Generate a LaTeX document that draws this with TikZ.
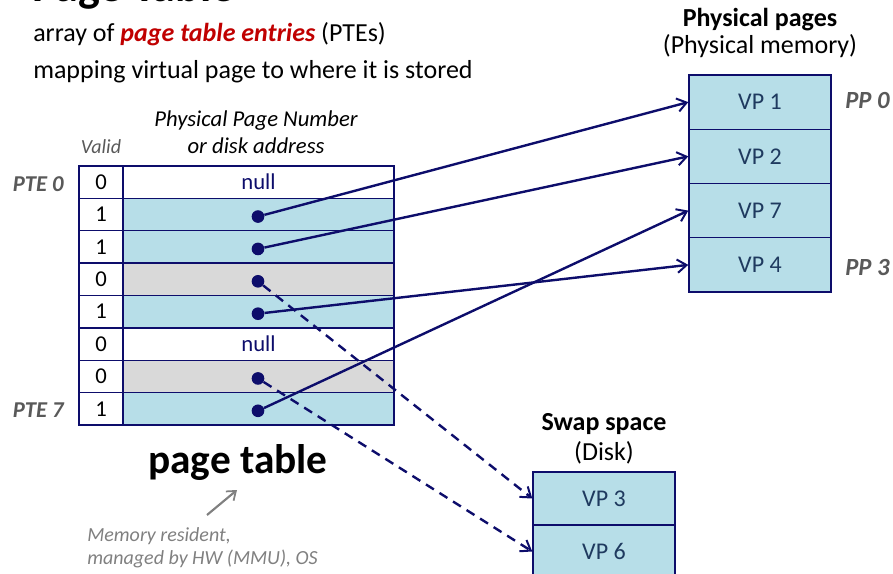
\documentclass[tikz,border=0pt]{standalone}
\usepackage{fontspec}
\setmainfont{Carlito}
\usetikzlibrary{arrows.meta,positioning}
\definecolor{PTNavy}{HTML}{0D0D6B}
\definecolor{PTBlue}{HTML}{B7DEE8}
\definecolor{PTGray}{HTML}{D9D9D9}
\definecolor{PTSlate}{HTML}{1F3A5F}
\definecolor{PTLabel}{HTML}{595959}
\definecolor{PTRed}{HTML}{C00000}
\newcommand{\fsz}[1]{\fontsize{#1}{#1}\selectfont}

\begin{document}
\begin{tikzpicture}[x=0.75pt,y=-0.75pt,
    txt/.style={inner sep=0pt,anchor=base west},
    cell/.style={draw=PTNavy,line width=1.1pt,minimum height=24.28pt,inner sep=0pt,font=\fsz{17pt}},
    page/.style={draw=PTNavy,line width=1.1pt,fill=PTBlue,minimum width=106.5pt,inner sep=0pt,text=PTSlate,font=\fsz{18pt}},
    dot/.style={circle,fill=PTNavy,minimum size=9.5pt,inner sep=0pt},
    link/.style={-{Straight Barb[length=7pt,width=10pt,line width=1.5pt]},draw=PTNavy,line width=1.8pt},
    swap/.style={link,dash pattern=on 7pt off 5pt},
    tag/.style={txt,text=PTLabel,font=\fsz{17pt}\bfseries\itshape}
  ]
    \useasboundingbox (0,0) rectangle (893,574);

    % title and intro
    \node[txt,font=\fsz{34.5pt}\bfseries] (title) at (32,2) {Page Table};
    \node[txt,font=\fsz{19.5pt}] (intro1) at (33,42) {array of \textcolor{PTRed}{\textbf{\textit{page table entries}}} (PTEs)};
    \node[txt,font=\fsz{19.5pt}] (intro2) at (33,79) {mapping virtual page to where it is stored};

    % page table
    \node[txt,anchor=base,text=PTLabel,font=\fsz{15pt}\itshape] (validhd) at (101,154) {Valid};
    \node[txt,anchor=base,font=\fsz{17pt}\itshape] (ppnhd1) at (256,127) {Physical Page Number};
    \node[txt,anchor=base,font=\fsz{17pt}\itshape] (ppnhd2) at (256,154) {or disk address};
    \foreach \v/\c [count=\i from 0] in {0/white,1/PTBlue,1/PTBlue,0/PTGray,1/PTBlue,0/white,0/PTGray,1/PTBlue} {
      \node[cell,fill=white,minimum width=33pt] (v\i) at (101,{182.19+32.375*\i}) {\v};
      \node[cell,fill=\c,minimum width=203.25pt] (p\i) at (258.5,{182.19+32.375*\i}) {};
    }
    \node[text=PTNavy,font=\fsz{17pt}] (null0) at (p0) {null};
    \node[text=PTNavy,font=\fsz{17pt}] (null5) at (p5) {null};
    \node[tag,anchor=base east] (pte0) at (64,192) {PTE 0};
    \node[tag,anchor=base east] (pte7) at (64,417) {PTE 7};
    \node[txt,anchor=base,font=\fsz{31pt}\bfseries] (ptlabel) at (238,473) {page table};

    % physical memory
    \node[txt,anchor=base,font=\fsz{19.5pt}\bfseries] (physhd1) at (760,27) {Physical pages};
    \node[txt,anchor=base,font=\fsz{19.5pt}] (physhd2) at (760,54) {(Physical memory)};
    \foreach \k [count=\i from 0] in {1,2,7,4}
      \node[page,minimum height=40.69pt] (vp\k) at (760,{75+54.25*(\i+0.5)}) {VP \k};
    \node[tag,font=\fsz{18.5pt}\bfseries\itshape] (pp0) at (845,109) {PP 0};
    \node[tag,font=\fsz{18.5pt}\bfseries\itshape] (pp3) at (845,276) {PP 3};

    % disk
    \node[txt,anchor=base,font=\fsz{19.5pt}\bfseries] (swaphd1) at (604,430) {Swap space};
    \node[txt,anchor=base,font=\fsz{19.5pt}] (swaphd2) at (604,460) {(Disk)};
    \foreach \k [count=\i from 0] in {3,6}
      \node[page,minimum height=39.75pt] (vp\k) at (604,{472+53*(\i+0.5)}) {VP \k};

    % pointers
    \foreach \i in {1,2,3,4,6,7}
      \node[dot] (d\i) at (258,{184.19+32.375*\i}) {};
    \draw[link] (d1) -- (vp1.west);
    \draw[link] (d2) -- (vp2.west);
    \draw[link] (d4) -- (vp4.west);
    \draw[link] (d7) -- (vp7.west);
    \draw[swap] (d3) -- (vp3.west);
    \draw[swap] (d6) -- (vp6.west);

    % note
    \coordinate (memtail) at (207,515);
    \coordinate (memhead) at (237,490);
    \draw[-{Straight Barb[length=6pt,width=9pt,line width=1.3pt]},draw=gray,line width=1.6pt] (memtail) -- (memhead);
    \node[txt,text=gray,font=\fsz{15pt}\itshape] (mem1) at (87,541) {Memory resident,};
    \node[txt,text=gray,font=\fsz{15pt}\itshape] (mem2) at (87,564) {managed by HW (MMU), OS};
\end{tikzpicture}
\end{document}
